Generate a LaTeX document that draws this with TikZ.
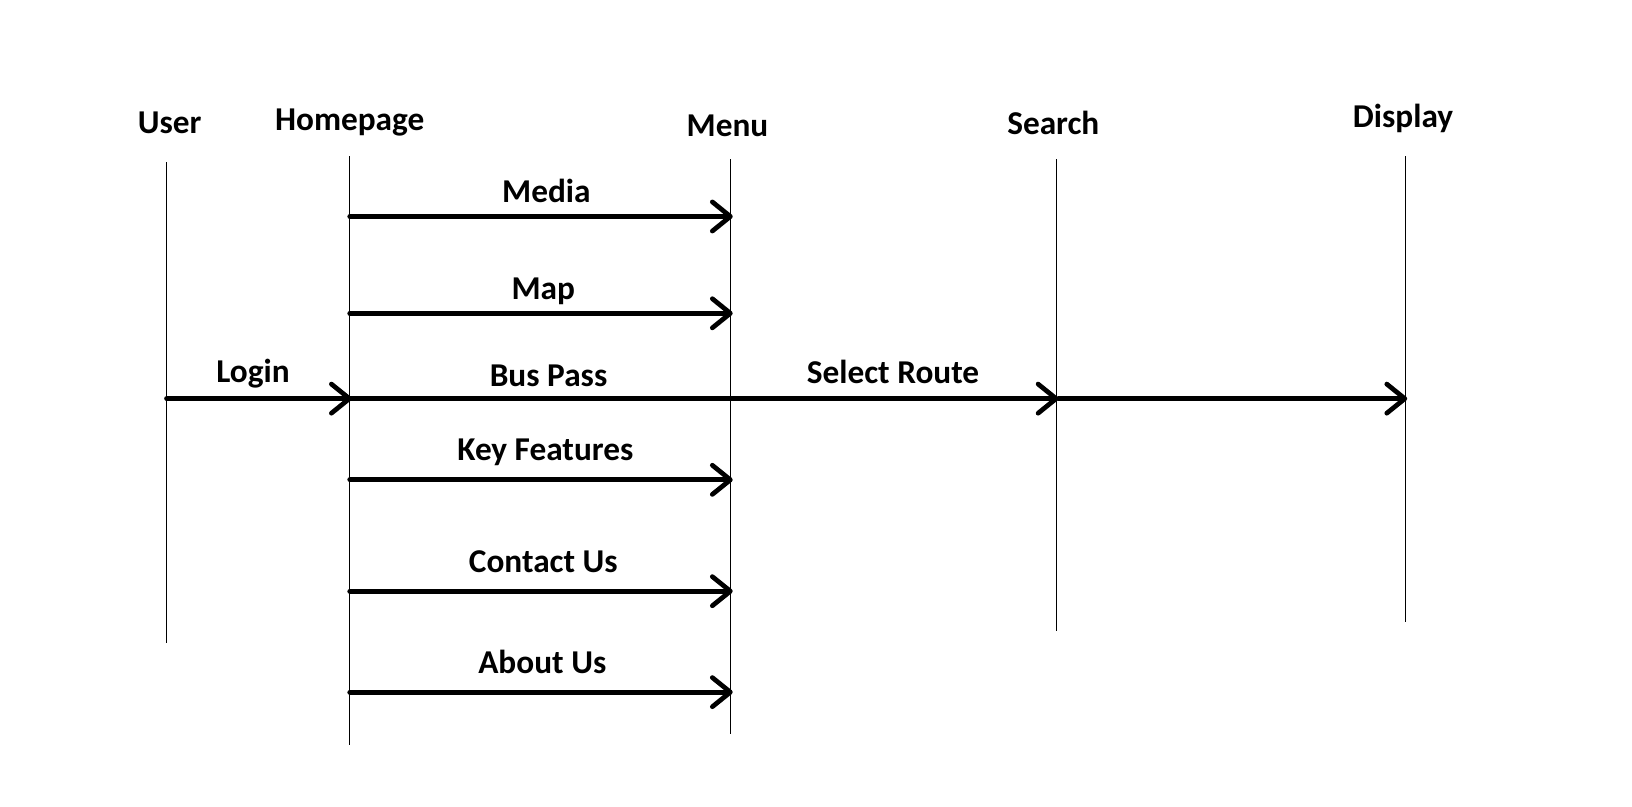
\documentclass[tikz,border=0pt]{standalone}
\usepackage{fontspec}
\setmainfont{Carlito}
\usetikzlibrary{arrows.meta}
\tikzset{every picture/.style={line width=0.75pt}}
\tikzset{
  lbl/.style={font=\fontsize{24}{28}\selectfont\bfseries, inner sep=0.75pt},
  life/.style={line width=0.75pt},
  msg/.style={line width=3.4pt, line cap=round, -{Straight Barb[length=13pt,width=21pt,line width=3.4pt,round]}},
  msgplain/.style={line width=3.4pt, line cap=round}
}

\begin{document}
\begin{tikzpicture}[x=0.75pt,y=0.75pt,yscale=-1,xscale=1]
\useasboundingbox (0,0) rectangle (1568,775);

% Lifeline heads
\node (user) [lbl] at (163,118) {User};
\node (home) [lbl] at (336,118) {Homepage};
\node (menu) [lbl] at (699,121) {Menu};
\node (search) [lbl] at (1012,118) {Search};
\node (disp) [lbl] at (1348,114) {Display};

% Lifelines
\coordinate (userT) at (160,156);   \coordinate (userB) at (160,618);
\coordinate (homeT) at (336,150);   \coordinate (homeB) at (336,716);
\coordinate (menuT) at (702,153);   \coordinate (menuB) at (702,705);
\coordinate (searchT) at (1015,153); \coordinate (searchB) at (1015,606);
\coordinate (dispT) at (1350,150);  \coordinate (dispB) at (1350,598);
\draw [life] (userT) -- (userB);
\draw [life] (homeT) -- (homeB);
\draw [life] (menuT) -- (menuB);
\draw [life] (searchT) -- (searchB);
\draw [life] (dispT) -- (dispB);

% Message ends
\coordinate (hMedia) at (336,208);   \coordinate (mMedia) at (704,208);
\coordinate (hMap) at (336,301);     \coordinate (mMap) at (704,301);
\coordinate (uLogin) at (160,383);   \coordinate (hLogin) at (338,383);
\coordinate (hBus) at (336,383);     \coordinate (mBus) at (702,383);
\coordinate (sRoute) at (1017,383);  \coordinate (dRoute) at (1352,383);
\coordinate (hKey) at (336,461);     \coordinate (mKey) at (704,461);
\coordinate (hContact) at (336,568); \coordinate (mContact) at (704,568);
\coordinate (hAbout) at (336,665);   \coordinate (mAbout) at (704,665);

% Connection
\draw [msg] (hMedia) -- (mMedia);
\draw [msg] (hMap) -- (mMap);
\draw [msg] (uLogin) -- (hLogin);
\draw [msgplain] (hBus) -- (mBus);
\draw [msg] (mBus) -- (sRoute);
\draw [msg] (sRoute) -- (dRoute);
\draw [msg] (hKey) -- (mKey);
\draw [msg] (hContact) -- (mContact);
\draw [msg] (hAbout) -- (mAbout);

% Text Node
\node (tMedia) [lbl] at (525,183) {Media};
\node (tMap) [lbl] at (522,280) {Map};
\node (tLogin) [lbl] at (243,359) {Login};
\node (tBus) [lbl] at (527,361) {Bus Pass};
\node (tRoute) [lbl] at (858,357) {Select Route};
\node (tKey) [lbl] at (524,435) {Key Features};
\node (tContact) [lbl] at (522,540) {Contact Us};
\node (tAbout) [lbl] at (521,636) {About Us};

\end{tikzpicture}
\end{document}
